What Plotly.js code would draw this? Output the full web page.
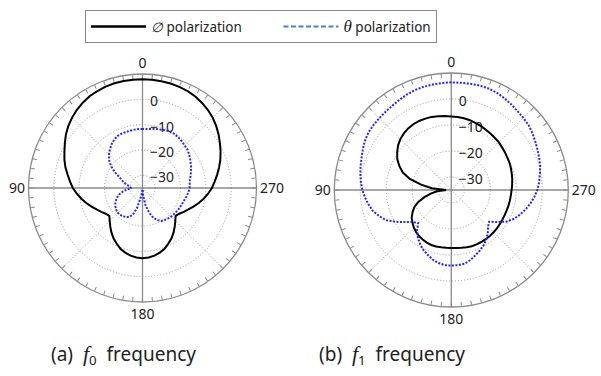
<!DOCTYPE html>
<html>
<head>
<meta charset="utf-8">
<script src="https://cdn.plot.ly/plotly-3.0.1.min.js"></script>
<style>html,body{margin:0;padding:0;background:#fff;}#chart{width:601px;height:376px;}</style>
</head>
<body>
<div id="chart"></div>
<script>
// Angles (degrees)
const angles = [0,5,10,15,20,25,30,35,40,45,50,55,60,65,70,75,80,85,90,95,100,105,110,115,120,125,130,135,140,145,150,155,160,165,170,175,
  180,185,190,195,200,205,210,215,220,225,230,235,240,245,250,255,260,265,270,275,280,285,290,295,300,305,310,315,320,325,330,335,340,345,350,355];

// (a) f0 frequency — phi polarization (dB)
const f0Phi = [7.9,7.9,7.9,7.8,7.6,7.2,6.8,6.1,5.3,4.3,3.2,1.9,0.4,-1.0,-2.2,-3.5,-5.0,-6.3,-7.5,-9.0,-10.5,-12.0,-13.6,-15.0,-16.2,-17.3,-17.9,-16.7,-15.2,-13.6,-12.1,-10.8,-9.5,-8.6,-7.9,-7.5,
  -7.3,-7.5,-7.9,-8.6,-9.5,-10.8,-12.1,-13.6,-15.2,-16.7,-17.9,-17.3,-16.2,-15.0,-13.6,-12.0,-10.5,-9.0,-7.6,-6.4,-5.1,-3.7,-2.3,-1.0,0.3,1.7,3.0,4.2,5.2,6.0,6.7,7.2,7.5,7.7,7.8,7.9];
// (a) f0 frequency — theta polarization (dB)
const f0Theta = [-11.7,-11.7,-11.8,-11.9,-12.0,-12.2,-12.8,-13.8,-15.0,-16.3,-17.8,-19.8,-22.3,-25.0,-26.5,-27.8,-29.2,-30.0,-30.6,-29.0,-27.2,-25.6,-24.4,-23.4,-22.6,-22.0,-21.5,-21.2,-21.2,-21.4,-21.8,-22.4,-23.8,-27.0,-31.5,-33.5,
  -34.5,-32.0,-28.0,-25.0,-22.5,-21.0,-20.0,-19.6,-19.3,-19.0,-18.9,-18.7,-18.5,-18.3,-18.1,-17.7,-17.2,-16.8,-16.4,-16.3,-16.0,-15.3,-14.6,-13.9,-13.2,-12.4,-11.7,-11.4,-10.9,-10.5,-10.2,-10.3,-10.6,-11.0,-11.3,-11.6];

// (b) f1 frequency — phi polarization (dB)
const f1Phi = [-6.7,-6.4,-6.2,-5.9,-5.8,-5.7,-5.8,-6.1,-6.6,-7.3,-8.3,-9.6,-11.0,-12.9,-15.1,-18.5,-23.2,-27.5,-33.0,-29.5,-27.0,-24.3,-21.5,-19.3,-17.8,-16.4,-15.5,-14.6,-13.9,-13.4,-13.0,-12.7,-12.5,-12.5,-12.6,-12.7,
  -12.7,-12.6,-12.4,-12.2,-12.0,-11.9,-11.9,-11.9,-11.9,-12.0,-12.1,-12.2,-12.3,-12.3,-12.3,-12.2,-12.1,-12.0,-11.8,-11.5,-11.2,-10.9,-10.6,-10.3,-10.1,-9.8,-9.5,-9.1,-8.9,-8.6,-8.3,-7.9,-7.6,-7.2,-7.0,-6.8];
// (b) f1 frequency — theta polarization (dB)
const f1Theta = [6.4,6.3,6.2,6.1,5.9,5.5,5.0,4.6,4.3,4.1,4.0,3.8,3.3,2.5,1.7,1.1,0.5,-0.1,-0.8,-1.7,-2.7,-3.8,-5.5,-7.5,-10.5,-13.5,-15.8,-17.0,-14.5,-12.6,-11.0,-9.6,-8.5,-7.3,-6.5,-6.0,
  -5.9,-6.0,-6.2,-7.0,-8.2,-9.2,-10.3,-11.6,-13.2,-15.0,-16.0,-13.5,-10.6,-8.6,-7.0,-5.6,-4.2,-3.0,-1.9,-1.1,-0.4,0.4,1.0,1.6,2.3,3.1,3.8,4.2,4.6,5.2,5.8,6.3,6.6,6.6,6.5,6.4];

const radialTicks = [-30,-20,-10,0];
const angleLabels = {0:'0',90:'90',180:'180',270:'270'};
const seriesNames = ['<span style="font-style:italic">\u2205</span>\u00a0polarization\u00a0\u00a0\u00a0\u00a0\u00a0\u00a0\u00a0\u00a0\u00a0',
                     '<span style="font-family:\'Liberation Serif\';font-style:italic;font-size:17px">\u03b8</span>\u00a0polarization'];
const captions = ['(a)  <span style="font-family:\'Liberation Serif\';font-style:italic;font-size:22px">f</span><sub>0</sub>  frequency',
                  '(b)  <span style="font-family:\'Liberation Serif\';font-style:italic;font-size:22px">f</span><sub>1</sub>  frequency'];

const rMin = -35, rMax = 10;
const close = a => a.concat([a[0]]);
const angClosed = close(angles);

const traces = [];
['polar','polar2'].forEach(sp => {
  // dotted diagonal grid lines
  [45,135].forEach(a => traces.push({type:'scatterpolar', subplot:sp, mode:'lines', r:[rMax,rMin,rMax], theta:[a,a,a+180],
    line:{color:'#9a9a9a', width:1, dash:'1px,2px'}, hoverinfo:'skip', showlegend:false}));
  // solid cross lines
  [0,90].forEach(a => traces.push({type:'scatterpolar', subplot:sp, mode:'lines', r:[rMax,rMin,rMax], theta:[a,a,a+180],
    line:{color:'#8a8a8a', width:1.3}, hoverinfo:'skip', showlegend:false}));
});

const blackLine = {color:'#000', width:2};
const blueLine = {color:'#2424ff', width:2, dash:'2px,1.5px'};
traces.push({type:'scatterpolar', subplot:'polar', mode:'lines', r:close(f0Phi), theta:angClosed, line:blackLine, showlegend:false});
traces.push({type:'scatterpolar', subplot:'polar', mode:'lines', r:close(f0Theta), theta:angClosed, line:blueLine, showlegend:false});
traces.push({type:'scatterpolar', subplot:'polar2', mode:'lines', r:close(f1Phi), theta:angClosed, line:blackLine, showlegend:false});
traces.push({type:'scatterpolar', subplot:'polar2', mode:'lines', r:close(f1Theta), theta:angClosed, line:blueLine, showlegend:false});
// legend entries
traces.push({type:'scatterpolar', subplot:'polar', mode:'lines', r:[null], theta:[null], name:seriesNames[0], line:{color:'#000', width:2.5}});
traces.push({type:'scatterpolar', subplot:'polar', mode:'lines', r:[null], theta:[null], name:seriesNames[1], line:{color:'#4a7fd6', width:2, dash:'5px,2.5px'}});

function polarCfg(dx, dy){
  return {
    domain:{x:dx, y:dy},
    bgcolor:'rgba(0,0,0,0)',
    angularaxis:{rotation:90, direction:'counterclockwise', tickmode:'array', tickvals:angles,
      ticktext:angles.map(a => angleLabels[a] || ''), ticks:'inside', ticklen:4, tickcolor:'#8a8a8a',
      linecolor:'#8a8a8a', linewidth:1.3, showgrid:false, layer:'below traces',
      tickfont:{family:'Noto Sans', size:14, color:'#222'}},
    radialaxis:{range:[rMin,rMax], tickmode:'array', tickvals:radialTicks, angle:90, side:'clockwise',
      showline:false, ticks:'', gridcolor:'#9a9a9a', griddash:'1px,2px', gridwidth:1, layer:'below traces',
      tickfont:{family:'Noto Sans', size:14, color:'#222'}}
  };
}

const layout = {
  width:601, height:376, margin:{l:0,r:0,t:0,b:0}, paper_bgcolor:'#fff',
  font:{family:'Noto Sans', color:'#222'},
  polar: polarCfg([0.0474,0.4268],[0.1968,0.8032]),
  polar2: polarCfg([0.5562,0.9456],[0.1835,0.8059]),
  showlegend:true,
  legend:{orientation:'h', x:0.1414, xanchor:'left', y:0.973, yanchor:'top', bordercolor:'#888', borderwidth:1,
    font:{family:'Noto Sans', size:13.5, color:'#222'}, itemwidth:55, bgcolor:'#fff'},
  annotations:[
    {text:captions[0], xref:'paper', yref:'paper', x:0.2047, y:0.0559, xanchor:'center', yanchor:'middle', showarrow:false, font:{family:'Noto Sans', size:19, color:'#222'}},
    {text:captions[1], xref:'paper', yref:'paper', x:0.6525, y:0.0559, xanchor:'center', yanchor:'middle', showarrow:false, font:{family:'Noto Sans', size:19, color:'#222'}}
  ]
};

Plotly.newPlot('chart', traces, layout, {staticPlot:true, displayModeBar:false});
</script>
</body>
</html>
